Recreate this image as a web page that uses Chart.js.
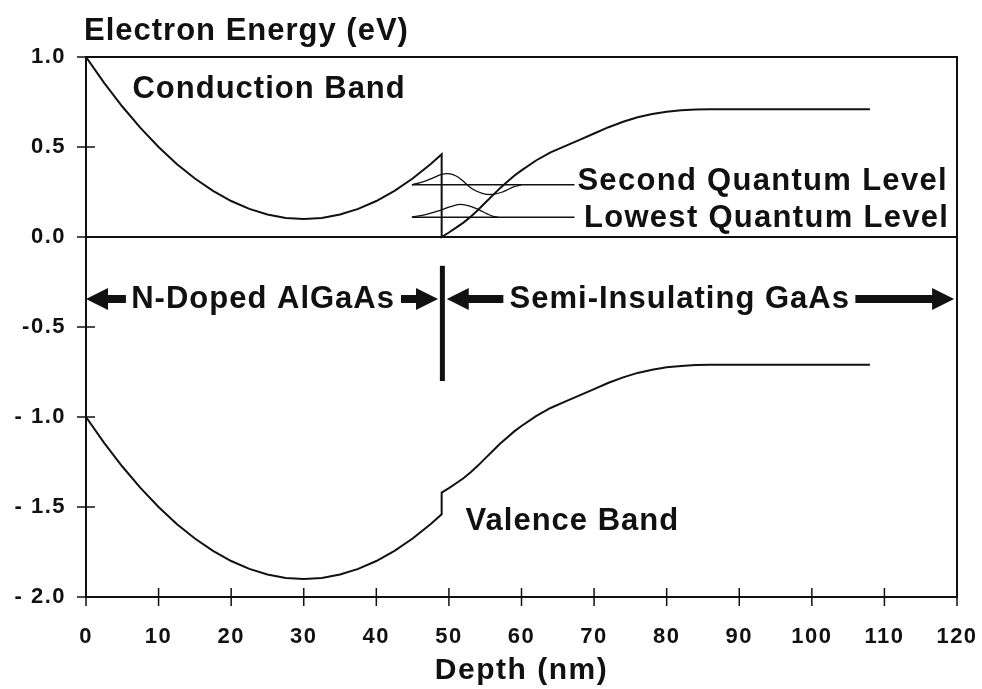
<!DOCTYPE html>
<html>
<head>
<meta charset="utf-8">
<script src="https://cdn.jsdelivr.net/npm/chart.js@4.4.0/dist/chart.umd.min.js"></script>
<style>
body { margin: 0; background: #fff; }
#wrap { width: 982px; height: 689px; }
</style>
</head>
<body>
<div id="wrap"><canvas id="chart"></canvas></div>
<script>
// depth in nm, energy in eV
var conductionX = [0, 2.5, 5, 7.5, 10, 12.5, 15, 17.5, 20, 22.5, 25, 27.5, 30, 32.5, 35, 37.5, 40, 42.5, 45, 47.5, 49,
    49, 50, 51, 52, 53, 54, 55, 56, 57, 58, 59, 60, 62, 64, 66, 68, 70, 72, 74, 76, 78, 80, 82, 84, 86, 108];
var conductionY = [1.0, 0.856, 0.725, 0.606, 0.5, 0.406, 0.325, 0.256, 0.2, 0.156, 0.125, 0.106, 0.1, 0.106, 0.125, 0.156, 0.2, 0.256, 0.325, 0.406, 0.46,
    0, 0.025, 0.052, 0.08, 0.113, 0.15, 0.19, 0.23, 0.27, 0.305, 0.34, 0.37, 0.425, 0.47, 0.505, 0.54, 0.575, 0.61, 0.64, 0.665, 0.683, 0.696, 0.704, 0.709, 0.71, 0.71];

var valenceX = conductionX;
var valenceY = [-1.0, -1.144, -1.275, -1.394, -1.5, -1.594, -1.675, -1.744, -1.8, -1.844, -1.875, -1.894, -1.9, -1.894, -1.875, -1.844, -1.8, -1.744, -1.675, -1.594, -1.54,
    -1.42, -1.395, -1.368, -1.34, -1.307, -1.27, -1.23, -1.19, -1.15, -1.115, -1.08, -1.05, -0.995, -0.95, -0.915, -0.88, -0.845, -0.81, -0.78, -0.755, -0.737, -0.724, -0.716, -0.711, -0.71, -0.71];

// quantum levels
var levelX = [44.9, 67.3];
var secondLevelY = [0.29, 0.29];
var lowestLevelY = [0.11, 0.11];

// wavefunctions drawn on top of each level
var secondWaveX = [44.9, 46.5, 47.9, 49.0, 49.9, 51.0, 52.2, 53.3, 54.7, 56.1, 57.5, 58.9, 60.0];
var secondWaveY = [0.29, 0.307, 0.33, 0.348, 0.352, 0.339, 0.302, 0.265, 0.241, 0.237, 0.252, 0.278, 0.289];
var lowestWaveX = [44.9, 46.9, 48.8, 50.1, 51.5, 52.9, 54.3, 55.2, 56.1, 56.8];
var lowestWaveY = [0.11, 0.126, 0.148, 0.167, 0.181, 0.172, 0.148, 0.13, 0.115, 0.11];

var xTicks = [0, 10, 20, 30, 40, 50, 60, 70, 80, 90, 100, 110, 120];
var yTicks = [-2.0, -1.5, -1.0, -0.5, 0.0, 0.5, 1.0];
var yTickLabels = ['- 2.0', '- 1.5', '- 1.0', '-0.5', '0.0', '0.5', '1.0'];

var ink = '#111';
var fam = '"Liberation Sans", Arial, sans-serif';

function pts(xs, ys) {
    return xs.map(function (x, i) { return { x: x, y: ys[i] }; });
}

function line(data, width, tension) {
    return {
        data: data,
        showLine: true,
        borderColor: ink,
        borderWidth: width,
        pointRadius: 0,
        tension: tension || 0,
        fill: false
    };
}

// region arrows: [from, to, tip on left?]
var arrows = [[0, 5.5, true], [43.4, 48.5, false], [49.7, 57.5, true], [106.0, 119.6, false]];

function arrow(c, x1, x2, y, tipLeft) {
    var head = 22, half = 11, shaft = 4;
    c.beginPath();
    if (tipLeft) {
        c.moveTo(x1, y);
        c.lineTo(x1 + head, y - half);
        c.lineTo(x1 + head, y - shaft);
        c.lineTo(x2, y - shaft);
        c.lineTo(x2, y + shaft);
        c.lineTo(x1 + head, y + shaft);
        c.lineTo(x1 + head, y + half);
    } else {
        c.moveTo(x2, y);
        c.lineTo(x2 - head, y - half);
        c.lineTo(x2 - head, y - shaft);
        c.lineTo(x1, y - shaft);
        c.lineTo(x1, y + shaft);
        c.lineTo(x2 - head, y + shaft);
        c.lineTo(x2 - head, y + half);
    }
    c.closePath();
    c.fill();
}

var decor = {
    id: 'decor',
    beforeLayout: function (chart) { chart.ctx.letterSpacing = '1.5px'; },
    beforeDraw: function (chart) { chart.ctx.letterSpacing = '1.5px'; },
    afterDraw: function (chart) {
        var c = chart.ctx, a = chart.chartArea;
        var sx = chart.scales.x, sy = chart.scales.y;
        var px = function (v) { return sx.getPixelForValue(v); };
        var py = function (v) { return sy.getPixelForValue(v); };
        c.save();
        c.strokeStyle = ink;
        c.fillStyle = ink;
        c.lineWidth = 2;
        c.strokeRect(a.left, a.top, a.right - a.left, a.bottom - a.top);

        // zero line
        c.beginPath();
        c.moveTo(a.left, py(0));
        c.lineTo(a.right, py(0));
        c.stroke();

        // ticks crossing the axes
        c.lineWidth = 1.5;
        c.beginPath();
        xTicks.forEach(function (v) {
            c.moveTo(px(v), a.bottom - 9);
            c.lineTo(px(v), a.bottom + 9);
        });
        yTicks.forEach(function (v) {
            c.moveTo(a.left - 9, py(v));
            c.lineTo(a.left + 9, py(v));
        });
        c.stroke();

        // interface bar
        c.lineWidth = 5;
        c.beginPath();
        c.moveTo(px(49.1), py(-0.16));
        c.lineTo(px(49.1), py(-0.8));
        c.stroke();

        arrows.forEach(function (ar) {
            arrow(c, px(ar[0]), px(ar[1]), py(-0.345), ar[2]);
        });

        c.font = 'bold 31px ' + fam;
        c.letterSpacing = '1px';
        c.textBaseline = 'middle';
        c.textAlign = 'left';
        c.fillText('Electron Energy (eV)', a.left - 2, 31);
        c.fillText('Conduction Band', px(6.4), py(0.82));
        c.fillText('Valence Band', px(52.3), py(-1.58));
        c.letterSpacing = '1.3px';
        c.fillText('Second Quantum Level', px(67.7), py(0.31));
        c.fillText('Lowest Quantum Level', px(68.6), py(0.105));
        c.letterSpacing = '1px';
        c.textAlign = 'center';
        c.fillText('N-Doped AlGaAs', px(24.4), py(-0.345));
        c.fillText('Semi-Insulating GaAs', px(81.8), py(-0.345));
        c.restore();
    }
};

var ctx = document.getElementById('chart').getContext('2d');

new Chart(ctx, {
    type: 'scatter',
    data: {
        datasets: [
            line(pts(conductionX, conductionY), 2),
            line(pts(valenceX, valenceY), 2),
            line(pts(levelX, secondLevelY), 1.5),
            line(pts(levelX, lowestLevelY), 1.5),
            line(pts(secondWaveX, secondWaveY), 1.3, 0.4),
            line(pts(lowestWaveX, lowestWaveY), 1.3, 0.4)
        ]
    },
    options: {
        responsive: true,
        maintainAspectRatio: false,
        animation: false,
        layout: { padding: { top: 57, right: 25, left: 0, bottom: 0 } },
        plugins: { legend: { display: false }, tooltip: { enabled: false } },
        scales: {
            x: {
                type: 'linear',
                min: 0,
                max: 120,
                afterFit: function (s) { s.height = 92; s.paddingLeft = 0; s.paddingRight = 0; },
                afterBuildTicks: function (s) { s.ticks = xTicks.map(function (v) { return { value: v }; }); },
                grid: { display: false },
                border: { display: false },
                ticks: { color: ink, font: { family: fam, size: 22, weight: 'bold' }, padding: 19, maxRotation: 0, autoSkip: false },
                title: { display: true, text: 'Depth (nm)', color: ink, font: { family: fam, size: 30, weight: 'bold' }, padding: { top: 0, bottom: 0 } }
            },
            y: {
                type: 'linear',
                min: -2,
                max: 1,
                afterFit: function (s) { s.width = 86; },
                afterBuildTicks: function (s) { s.ticks = yTicks.map(function (v) { return { value: v }; }); },
                grid: { display: false },
                border: { display: false },
                ticks: {
                    color: ink,
                    font: { family: fam, size: 22, weight: 'bold' },
                    padding: 12,
                    callback: function (v) { return yTickLabels[yTicks.indexOf(v)]; }
                }
            }
        }
    },
    plugins: [decor]
});
</script>
</body>
</html>
